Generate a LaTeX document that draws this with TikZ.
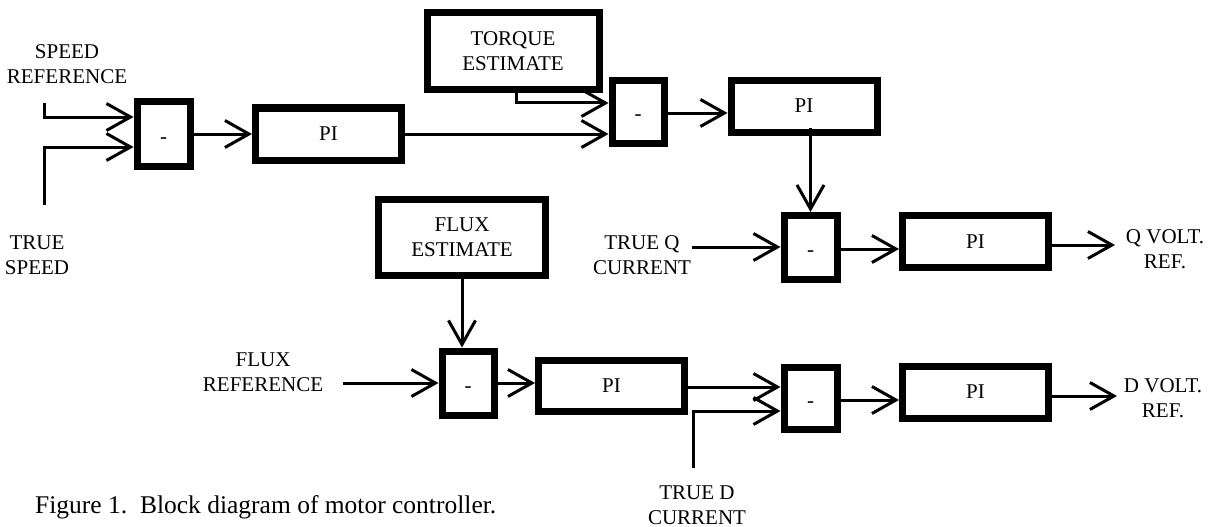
\documentclass[tikz,border=0pt]{standalone}
\usepackage{fontspec}
\setmainfont{Liberation Serif}
\usetikzlibrary{arrows.meta}
\begin{document}
\begin{tikzpicture}[x=1pt,y=-1pt,
  every node/.style={font=\fontsize{21}{25}\selectfont},
  sumbox/.style={draw, line width=7pt, minimum width=53pt, minimum height=64pt, inner sep=0pt, text height=18pt, text depth=0pt},
  piblock/.style={draw, line width=7pt, minimum width=146pt, minimum height=52pt, inner sep=0pt, text height=13pt, text depth=0pt},
  estbox/.style={draw, line width=7pt, inner sep=0pt, align=center},
  lbl/.style={inner sep=0pt, align=center},
  arr/.style={line width=3pt, -{Straight Barb[length=24pt, width=27pt]}}]
\useasboundingbox (0,0) rectangle (1211,527);

% blocks
\node[sumbox] (s1) at (163.5,134) {-};
\node[piblock] (p1) at (328.5,134) {PI};
\node[estbox, minimum width=172pt, minimum height=77pt] (te) at (513,51) {TORQUE\\ESTIMATE};
\node[sumbox, minimum width=52pt, minimum height=63pt] (s2) at (638,112) {-};
\node[piblock] (p2) at (804,106.5) {PI};
\node[sumbox] (s3) at (810.5,247.5) {-};
\node[piblock] (p3) at (975.5,241.5) {PI};
\node[estbox, minimum width=167pt, minimum height=76pt] (fe) at (462,237.5) {FLUX\\ESTIMATE};
\node[sumbox, minimum width=52pt] (s4) at (468,383) {-};
\node[piblock, minimum height=51pt] (p4) at (611.5,386) {PI};
\node[sumbox, minimum height=62pt] (s5) at (810.5,398) {-};
\node[piblock] (p5) at (975.5,392) {PI};

% labels
\node[lbl] (lsr) at (67,64.5) {SPEED\\REFERENCE};
\node[lbl] (lts) at (37,255) {TRUE\\SPEED};
\node[lbl] (ltq) at (642,255) {TRUE Q\\CURRENT};
\node[lbl] (lfr) at (263,372) {FLUX\\REFERENCE};
\node[lbl] (lqv) at (1165,249) {Q VOLT.\\REF.};
\node[lbl] (ldv) at (1163,398) {D VOLT.\\REF.};
\node[lbl] (ltd) at (697,505) {TRUE D\\CURRENT};
\node[lbl, anchor=base west, font=\fontsize{25.5}{30}\selectfont] (cap) at (35,513) {Figure 1.\ \ Block diagram of motor controller.};

% free ends
\coordinate (srs) at (44,103);
\coordinate (srk) at (44,117);
\coordinate (tss) at (44,205);
\coordinate (tsk) at (44,147);
\coordinate (tqs) at (692,247);
\coordinate (frs) at (343,383);
\coordinate (tds) at (693,468);
\coordinate (tdk) at (693,411);
\coordinate (qout) at (1115,245);
\coordinate (dout) at (1117,396);
\coordinate (tek) at (516,103);

% connectors
\draw[arr] (srs) -- (srk) -- (srk -| s1.west);
\draw[arr] (tss) -- (tsk) -- (tsk -| s1.west);
\draw[arr] (s1) -- (p1);
\draw[arr] (p1.east) -- (p1.east -| s2.west);
\draw[arr] (te.south -| tek) -- (tek) -- (tek -| s2.west);
\draw[arr] ([yshift=-1pt]s2.east) -- ([yshift=-1pt]s2.east -| p2.west);
\draw[arr] ([yshift=8pt]p2.south -| s3.north) -- (s3.north);
\draw[arr] (tqs) -- (tqs -| s3.west);
\draw[arr] ([yshift=-1.5pt]s3.east) -- ([yshift=-1.5pt]s3.east -| p3.west);
\draw[arr] (p3.east |- qout) -- (qout);
\draw[arr] (frs) -- (frs -| s4.west);
\draw[arr] (fe.south) -- (fe.south |- s4.north);
\draw[arr] (s4.east) -- (s4.east -| p4.west);
\draw[arr] ([yshift=-1pt]p4.east) -- ([yshift=-1pt]p4.east -| s5.west);
\draw[arr] (tds) -- (tdk) -- (tdk -| s5.west);
\draw[arr] ([yshift=-2pt]s5.east) -- ([yshift=-2pt]s5.east -| p5.west);
\draw[arr] (p5.east |- dout) -- (dout);
\end{tikzpicture}
\end{document}
